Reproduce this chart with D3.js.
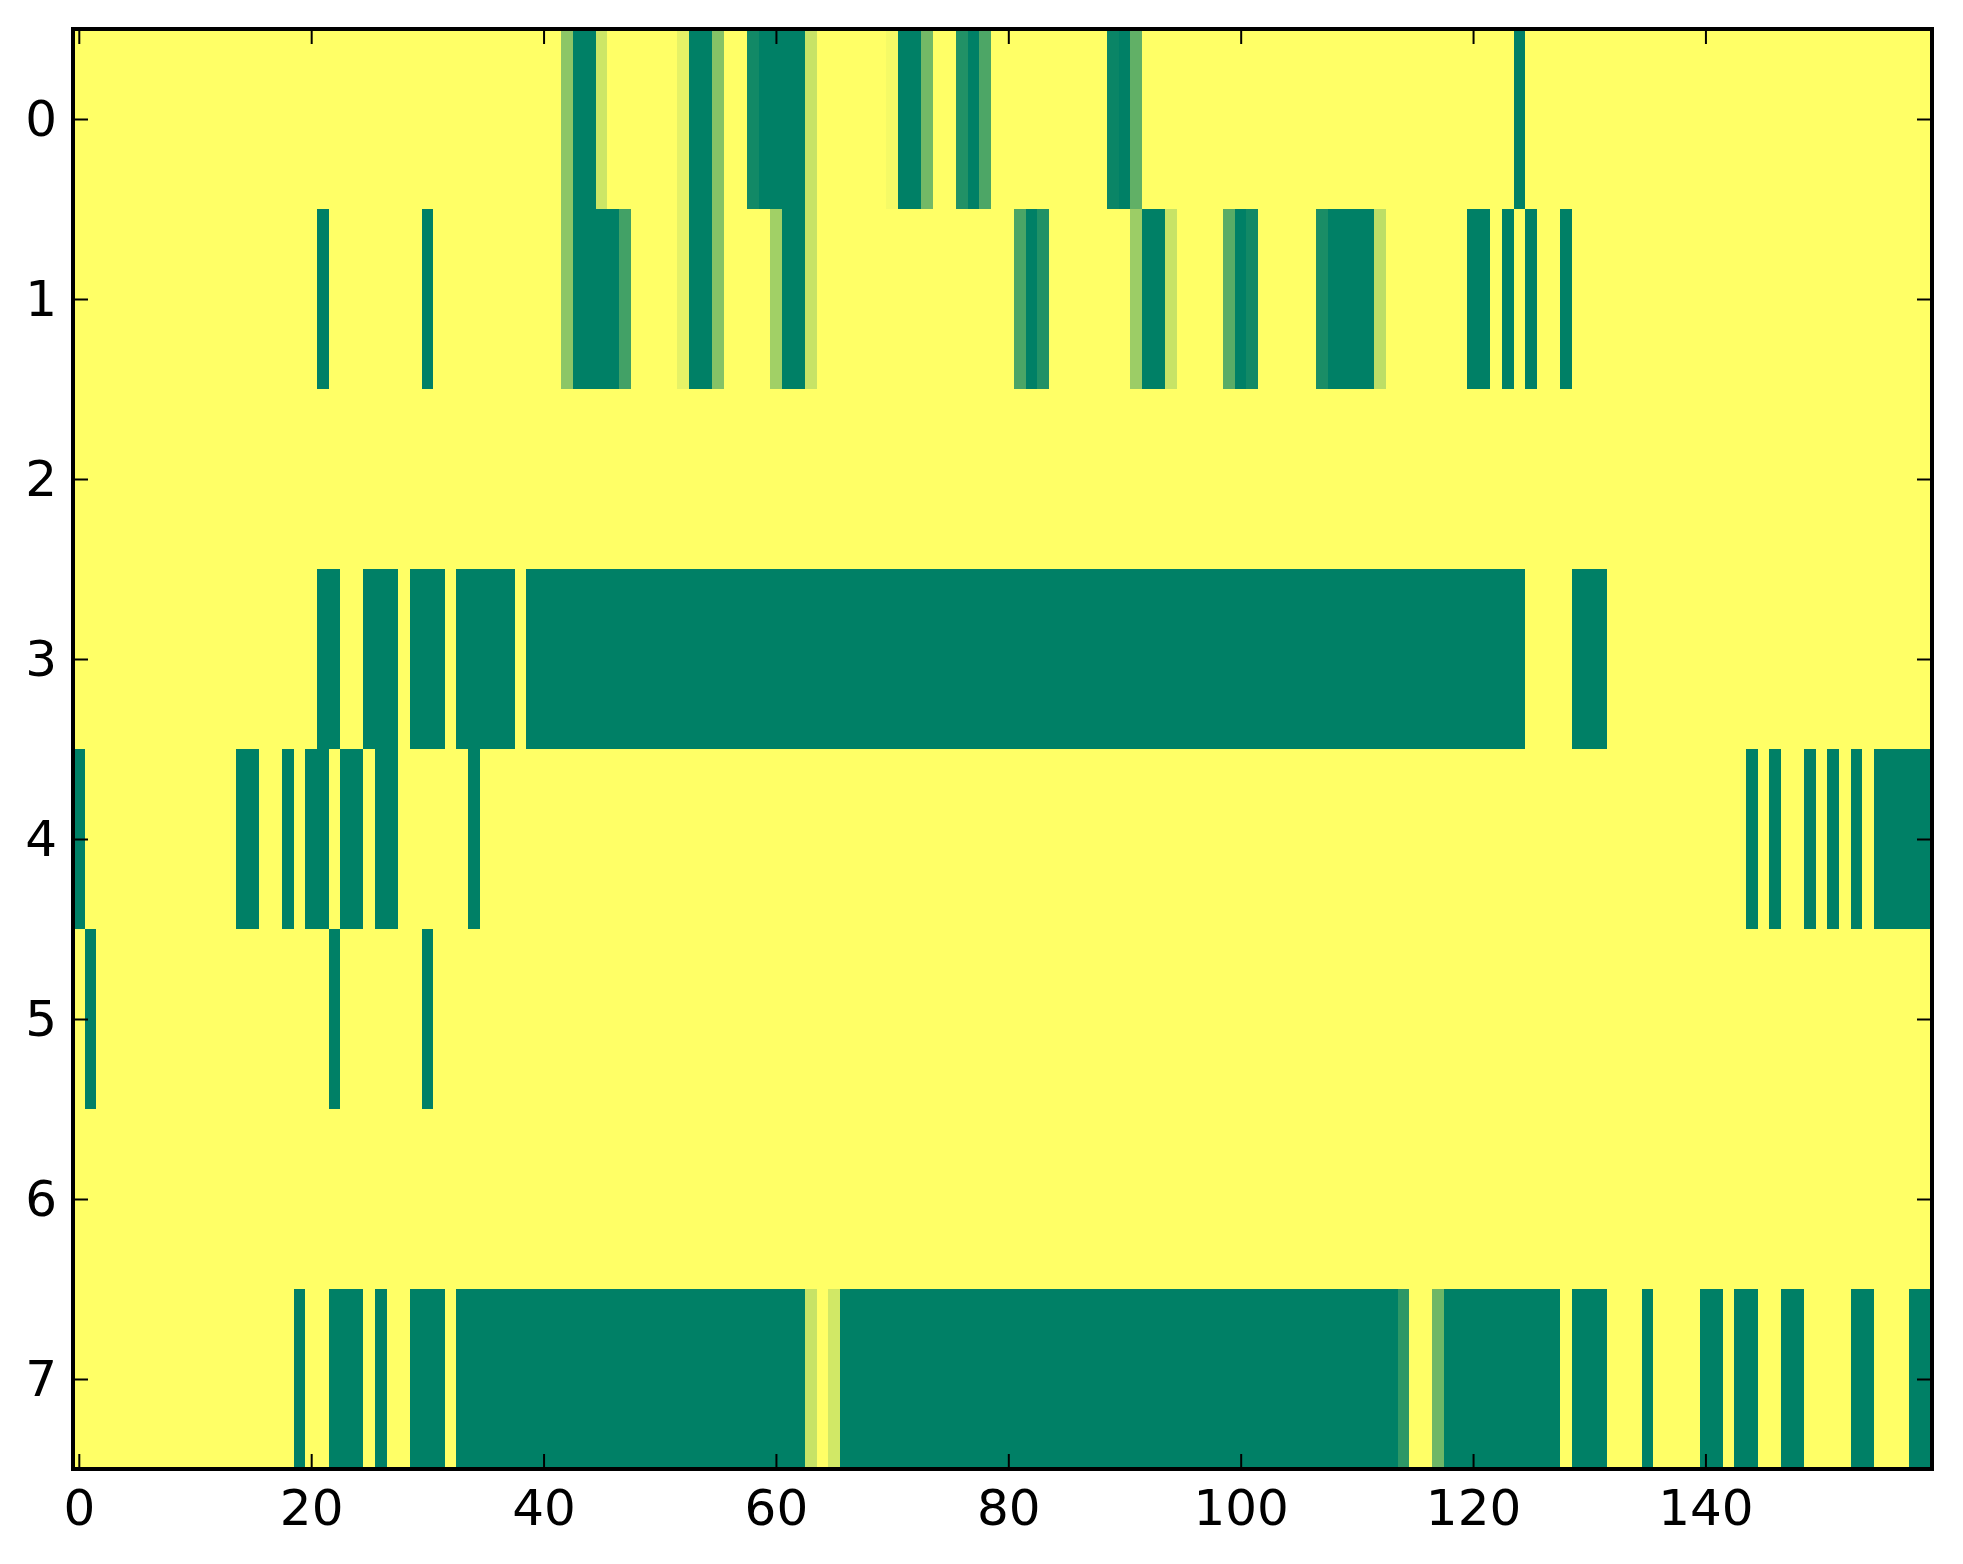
<!DOCTYPE html>
<html>
<head>
<meta charset="utf-8">
<script src="https://cdn.jsdelivr.net/npm/d3@7"></script>
<style>
  body { margin: 0; background: #fff; }
</style>
</head>
<body>
<div id="chart"></div>
<script>
// Heatmap data: each row is a list of runs [firstCol, lastCol, value]
// (cells not listed are 0)
const nCols = 160;
const rowLabels = [0, 1, 2, 3, 4, 5, 6, 7];
const xTickValues = [0, 20, 40, 60, 80, 100, 120, 140];

const row0 = [[42,42,0.45],[43,44,1],[45,45,0.2],[52,52,0.1],[53,54,1],[55,55,0.48],
  [58,58,0.93],[59,62,1],[63,63,0.22],[70,70,0.04],[71,72,1],[73,73,0.55],[76,76,0.87],
  [77,77,1],[78,78,0.7],[89,89,0.96],[90,90,1],[91,91,0.62],[124,124,1]];
const row1 = [[21,21,1],[30,30,1],[42,42,0.45],[43,46,1],[47,47,0.74],[52,52,0.1],[53,54,1],
  [55,55,0.48],[60,60,0.37],[61,62,1],[63,63,0.22],[81,81,0.71],[82,82,1],[83,83,0.87],
  [91,91,0.39],[92,93,1],[94,94,0.22],[99,99,0.65],[100,100,1],[101,101,0.93],[107,107,0.9],
  [108,111,1],[112,112,0.26],[120,121,1],[123,123,1],[125,125,1],[128,128,1]];
const row2 = [];
const row3 = [[21,22,1],[25,27,1],[29,31,1],[33,37,1],[39,124,1],[129,131,1]];
const row4 = [[0,0,1],[14,15,1],[18,18,1],[20,21,1],[23,24,1],[26,27,1],[34,34,1],
  [144,144,1],[146,146,1],[149,149,1],[151,151,1],[153,153,1],[155,159,1]];
const row5 = [[1,1,1],[22,22,1],[30,30,1]];
const row6 = [];
const row7 = [[19,19,1],[22,24,1],[26,26,1],[29,31,1],[33,62,1],[63,63,0.22],[65,65,0.18],
  [66,113,1],[114,114,0.82],[117,117,0.57],[118,127,1],[129,131,1],[135,135,1],[140,141,1],
  [143,144,1],[147,148,1],[153,154,1],[158,159,1]];

const rows = [row0, row1, row2, row3, row4, row5, row6, row7];

// Build cell list from the runs
const cells = [];
rows.forEach((runs, r) => {
  runs.forEach(([a, b, v]) => {
    for (let c = a; c <= b; c++) cells.push({ row: r, col: c, value: v });
  });
});

const drawHeatmap = () => {
  const width = 1963;
  const height = 1564;
  const margin = { left: 73, right: 31, top: 29, bottom: 95 };

  const svg = d3.select("#chart")
    .append("svg")
      .attr("width", width)
      .attr("height", height);

  const x = d3.scaleLinear()
    .domain([-0.5, nCols - 0.5])
    .range([margin.left, width - margin.right]);
  const y = d3.scaleLinear()
    .domain([-0.5, rowLabels.length - 0.5])
    .range([margin.top, height - margin.bottom]);

  // summer_r colormap
  const color = d3.scaleLinear()
    .domain([0, 1])
    .range(["#ffff66", "#008066"]);

  // zero-valued background of the image
  svg.append("rect")
    .attr("x", x(-0.5))
    .attr("y", y(-0.5))
    .attr("width", x(nCols - 0.5) - x(-0.5))
    .attr("height", y(rowLabels.length - 0.5) - y(-0.5))
    .attr("fill", color(0));

  svg.append("g")
    .selectAll("rect")
    .data(cells)
    .join("rect")
      .attr("x", d => x(d.col - 0.5))
      .attr("y", d => y(d.row - 0.5))
      .attr("width", d => x(d.col + 0.5) - x(d.col - 0.5))
      .attr("height", d => y(d.row + 0.5) - y(d.row - 0.5))
      .attr("fill", d => color(d.value))
      .attr("shape-rendering", "crispEdges");

  // ------ Axes (inward ticks on all four sides) ------- //
  const tickLen = 15;
  const styleAxis = g => {
    g.attr("font-family", "'DejaVu Sans', sans-serif").attr("font-size", 50);
    g.select(".domain").remove();
    g.selectAll(".tick line").attr("stroke", "#000").attr("stroke-width", 2);
    g.selectAll(".tick text").attr("fill", "#000");
  };

  svg.append("g")
    .attr("transform", `translate(0, ${y(rowLabels.length - 0.5)})`)
    .call(d3.axisBottom(x).tickValues(xTickValues).tickSize(-tickLen).tickPadding(20))
    .call(styleAxis);
  svg.append("g")
    .attr("transform", `translate(0, ${y(-0.5)})`)
    .call(d3.axisTop(x).tickValues(xTickValues).tickSize(-tickLen).tickFormat(""))
    .call(styleAxis);
  svg.append("g")
    .attr("transform", `translate(${x(-0.5)}, 0)`)
    .call(d3.axisLeft(y).tickValues(rowLabels).tickSize(-tickLen).tickPadding(16))
    .call(styleAxis);
  svg.append("g")
    .attr("transform", `translate(${x(nCols - 0.5)}, 0)`)
    .call(d3.axisRight(y).tickValues(rowLabels).tickSize(-tickLen).tickFormat(""))
    .call(styleAxis);

  // frame
  svg.append("rect")
    .attr("x", x(-0.5))
    .attr("y", y(-0.5))
    .attr("width", x(nCols - 0.5) - x(-0.5))
    .attr("height", y(rowLabels.length - 0.5) - y(-0.5))
    .attr("fill", "none")
    .attr("stroke", "#000")
    .attr("stroke-width", 4);
};

drawHeatmap();
</script>
</body>
</html>
